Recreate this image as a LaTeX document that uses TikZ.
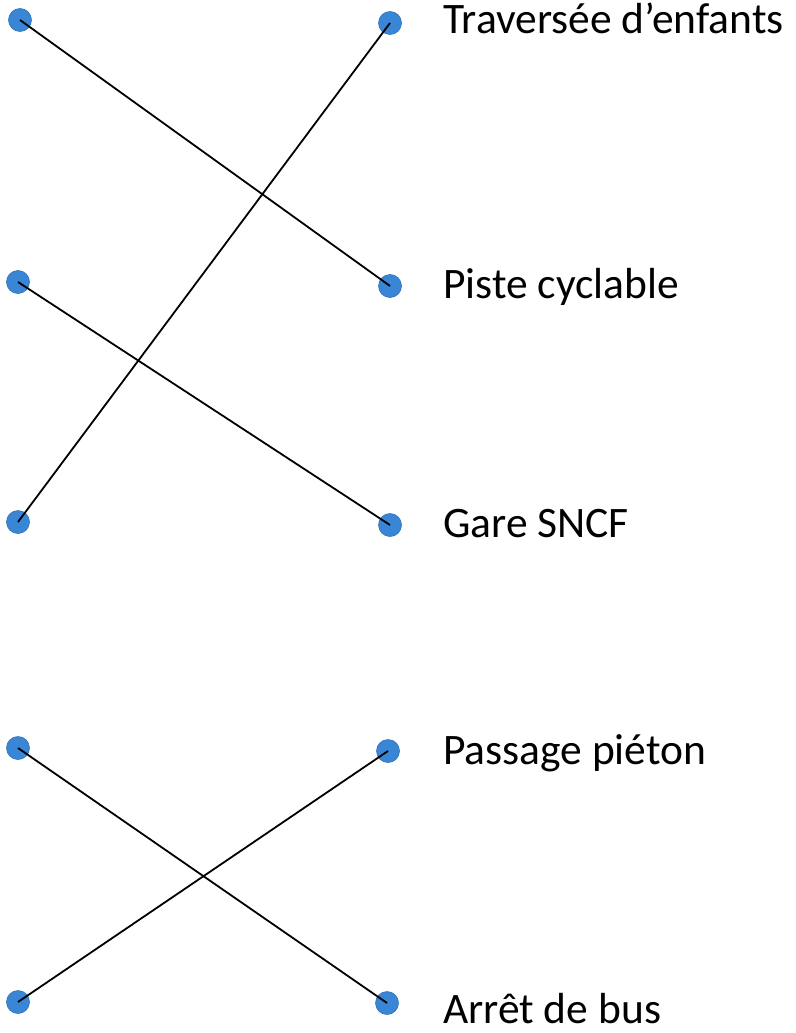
\documentclass[tikz,border=0pt]{standalone}
\usepackage{fontspec}
\setmainfont{Carlito}
\definecolor{dotblue}{RGB}{58,134,214}
\begin{document}
\begin{tikzpicture}[x=1pt,y=-1pt,
  dot/.style={circle,fill=dotblue,draw=dotblue!85!black,line width=0.6pt,minimum size=23pt,inner sep=0pt},
  link/.style={line width=1.8pt,black},
  lbl/.style={anchor=base west,inner sep=0pt,font=\fontsize{43.5}{50}\selectfont}]
\useasboundingbox (0,0) rectangle (795,1033);
\node[dot] (L1) at (20,20) {};
\node[dot] (L2) at (18,282) {};
\node[dot] (L3) at (18,522) {};
\node[dot] (L4) at (18,748) {};
\node[dot] (L5) at (18,1002) {};
\node[dot] (R1) at (390,23) {};
\node[dot] (R2) at (390,286) {};
\node[dot] (R3) at (390,525) {};
\node[dot] (R4) at (388,751) {};
\node[dot] (R5) at (387,1003) {};
\draw[link] (L1.center) -- (R2.center);
\draw[link] (R1.center) -- (L3.center);
\draw[link] (L2.center) -- (R3.center);
\draw[link] (L4.center) -- (R5.center);
\draw[link] (R4.center) -- (L5.center);
\node[lbl] (t1) at (443,34) {Traversée d’enfants};
\node[lbl] (t2) at (443,298) {Piste cyclable};
\node[lbl] (t3) at (443,537) {Gare SNCF};
\node[lbl] (t4) at (443,764) {Passage piéton};
\node[lbl] (t5) at (443,1023) {Arrêt de bus};
\end{tikzpicture}
\end{document}
